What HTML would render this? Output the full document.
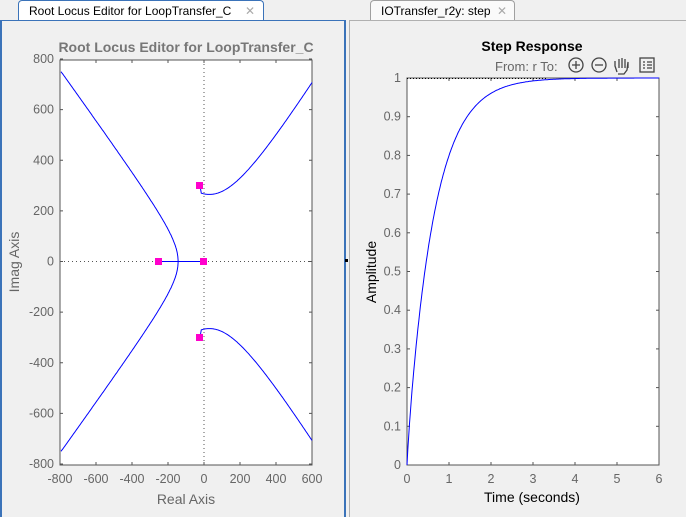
<!DOCTYPE html>
<html><head><style>
body{margin:0;width:686px;height:517px;background:#f0f0f0;position:relative;overflow:hidden;font-family:"Liberation Sans",sans-serif}
.tab{position:absolute;top:0;height:20px;background:#fafafa;border:1px solid #a0a0a0;border-bottom:none;border-radius:4px 4px 0 0;font-size:12px;line-height:20px;padding-left:10px;color:#000;box-sizing:border-box}
.x{position:absolute;color:#aaa;font-size:12px}
</style></head><body>
<div style="position:absolute;left:0;top:20px;width:346px;height:497px;border-left:2px solid #3b73b9;border-right:2px solid #3b73b9;box-sizing:border-box;background:#f0f0f0"></div>
<div style="position:absolute;left:0;top:20px;width:346px;height:1px;background:#3b73b9"></div>
<div style="position:absolute;left:349px;top:20px;width:337px;height:497px;border-left:1px solid #b0b0b0;box-sizing:border-box"></div>
<div style="position:absolute;left:349px;top:20px;width:337px;height:1px;background:#b0b0b0"></div>
<div class="tab" style="left:18px;width:246px;background:#fff;border-color:#3b73b9">Root Locus Editor for LoopTransfer_C<span class="x" style="left:226px">✕</span></div>
<div class="tab" style="left:370px;width:145px">IOTransfer_r2y: step<span class="x" style="left:126px">✕</span></div>
<div style="position:absolute;left:345px;top:259px;width:3px;height:3px;background:#000"></div>
<svg width="686" height="517" style="position:absolute;left:0;top:0" font-family="Liberation Sans, sans-serif">
<rect x="60" y="60" width="252" height="405" fill="#fff" stroke="#555"/>
<text x="186" y="52" text-anchor="middle" font-size="14" font-weight="bold" fill="#777">Root Locus Editor for LoopTransfer_C</text>
<g id="lt" fill="#666" font-size="12.5"></g>
<text x="186" y="504" text-anchor="middle" font-size="14" fill="#666">Real Axis</text>
<text transform="translate(19,262) rotate(-90)" text-anchor="middle" font-size="14" fill="#666">Imag Axis</text>
<line x1="204" y1="60" x2="204" y2="465" stroke="#555" stroke-dasharray="1,3"/>
<line x1="60" y1="261.5" x2="312" y2="261.5" stroke="#555" stroke-dasharray="1,3"/>
<g id="rl" fill="none" stroke="#0000ff" stroke-width="1"></g>
<g fill="#f0c">
<rect x="155" y="258" width="7" height="7"/><rect x="200" y="258" width="7" height="7"/>
<rect x="196" y="182" width="7" height="7"/><rect x="196" y="334" width="7" height="7"/></g>
<rect x="407" y="78" width="252" height="387" fill="#fff" stroke="#555"/>
<text x="532" y="51" text-anchor="middle" font-size="14" font-weight="bold" fill="#000">Step Response</text>
<text x="495" y="71" font-size="13" fill="#666">From: r  To:</text>
<g stroke="#444" fill="none" stroke-width="1.3">
<circle cx="576" cy="65" r="7"/><path d="M572 65h8M576 61v8"/>
<circle cx="599" cy="65" r="7"/><path d="M595 65h8"/>
<path d="M617 72l-2-6v-5M619 68v-9M622 68v-10M625 68v-9M628 68v-6l-1 8-3 4h-6"/>
<rect x="640" y="58" width="14" height="14"/><path d="M643 62h2M647 62h5M643 65h2M647 65h5M643 68h2M647 68h5"/></g>
<g id="rt" fill="#666" font-size="12.5"></g>
<text x="532" y="502" text-anchor="middle" font-size="14" fill="#000">Time (seconds)</text>
<text transform="translate(376,272) rotate(-90)" text-anchor="middle" font-size="14" fill="#000">Amplitude</text>
<line x1="407" y1="78.5" x2="547" y2="78.5" stroke="#000" stroke-dasharray="1,2"/>
<path id="st" fill="none" stroke="#0000ff"/>
</svg>
<script>
var ns="http://www.w3.org/2000/svg";
function el(p,t,a,tx){var e=document.createElementNS(ns,t);for(var k in a)e.setAttribute(k,a[k]);if(tx!=null)e.textContent=tx;p.appendChild(e);}
var lt=document.getElementById('lt');
function X(v){return 60+(v+800)*0.18} function Y(v){return 261.5-v*405/1600}
for(var v=-800;v<=600;v+=200){var x=X(v);el(lt,'text',{x:x,y:483,'text-anchor':'middle'},v);
 el(lt,'line',{x1:x,y1:465,x2:x,y2:462,stroke:'#555'});el(lt,'line',{x1:x,y1:60,x2:x,y2:63,stroke:'#555'});}
for(var v=-800;v<=800;v+=200){var y=Y(v);el(lt,'text',{x:54,y:y+4,'text-anchor':'end'},v);
 el(lt,'line',{x1:60,y1:y,x2:63,y2:y,stroke:'#555'});el(lt,'line',{x1:312,y1:y,x2:309,y2:y,stroke:'#555'});}
var rl=document.getElementById('rl');
var d='';for(var y=-750;y<=750;y+=5){var x=-22-122*Math.sqrt(1+Math.pow(y/120,2));d+=(d?'L':'M')+X(x).toFixed(1)+' '+Y(y).toFixed(1);}
el(rl,'path',{d:d});
el(rl,'path',{d:'M159 261.5H204'});
[1,-1].forEach(function(s){var d='M'+X(-22)+' '+Y(s*298);for(var x=-15;x<=600;x+=5){var y=Math.sqrt(265*265+Math.pow(1.15*(x-30),2));d+='L'+X(x).toFixed(1)+' '+Y(s*y).toFixed(1);}el(rl,'path',{d:d});});
var rt=document.getElementById('rt');
for(var t=0;t<=6;t++){var x=407+t*42;el(rt,'text',{x:x,y:483,'text-anchor':'middle'},t);
 el(rt,'line',{x1:x,y1:465,x2:x,y2:462,stroke:'#555'});el(rt,'line',{x1:x,y1:78,x2:x,y2:81,stroke:'#555'});}
for(var i=0;i<=10;i++){var y=465-i*38.7;el(rt,'text',{x:401,y:y+4,'text-anchor':'end'},i==0?'0':i==10?'1':(i/10).toFixed(1));
 el(rt,'line',{x1:407,y1:y,x2:410,y2:y,stroke:'#555'});el(rt,'line',{x1:659,y1:y,x2:656,y2:y,stroke:'#555'});}
var d='M407 465';for(var t=0;t<=6;t+=0.02){var a=1-Math.exp(-t/0.55)*(1+0.15*t/0.55)*0.97-0.03*Math.exp(-t/0.05);d+='L'+(407+t*42).toFixed(1)+' '+(465-a*387).toFixed(1);}
document.getElementById('st').setAttribute('d',d);
</script>
</body></html>
